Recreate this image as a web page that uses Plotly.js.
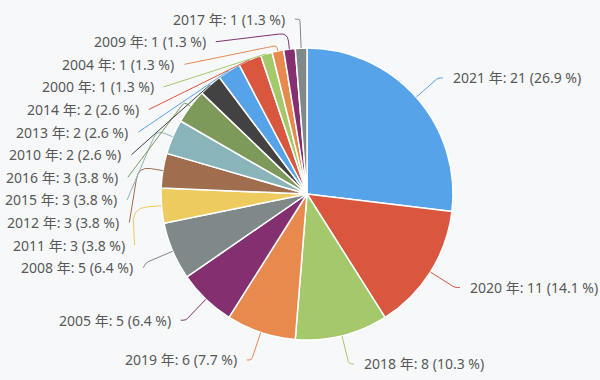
<!DOCTYPE html>
<html>
<head>
<meta charset="utf-8">
<script src="https://cdn.plot.ly/plotly-3.0.1.min.js"></script>
<style>
  html, body { margin: 0; padding: 0; background: #f7f8fa; }
  #chart { width: 600px; height: 380px; }
</style>
</head>
<body>
<div id="chart"></div>
<script>
// ---- data ----
const years  = ['2021','2020','2018','2019','2005','2008','2011','2012','2015','2016','2010','2013','2014','2000','2004','2009','2017'];
const counts = [21, 11, 8, 6, 5, 5, 3, 3, 3, 3, 2, 2, 2, 1, 1, 1, 1];
const palette = ['#56a3ea','#d9563f','#a5c96a','#e8894e','#842f6f','#7f8989','#eecb5f','#a06e4e','#89b4ba','#7d9a5b','#424242'];

// ---- geometry ----
const W = 600, H = 380;
const cx = 307, cy = 194, r = 146;
const len1 = 29, len2 = 5, R = r + len1, gap = 22.6, textGap = 8;

const colors = counts.map((_, i) => palette[i % palette.length]);
const total = counts.reduce((a, b) => a + b, 0);
const labels = years.map((y, i) => `${y} 年: ${counts[i]} (${(counts[i] / total * 100).toFixed(1)} %)`);

// label layout
let cum = 0;
const items = counts.map((v, i) => {
  const th = (cum + v / 2) / total * 2 * Math.PI;
  cum += v;
  const s = Math.sin(th), c = Math.cos(th);
  return {
    i, s, c,
    side: s >= 0 ? 1 : -1,
    p0: [cx + r * s, cy - r * c],
    p1: [cx + R * s, cy - R * c],
    y: cy - R * c
  };
});

[1, -1].forEach(side => {
  const list = items.filter(it => it.side === side).sort((a, b) => a.y - b.y);
  let shifted = false;
  for (let k = 1; k < list.length; k++) {
    if (list[k].y < list[k - 1].y + gap) { list[k].y = list[k - 1].y + gap; shifted = true; }
  }
  let B = R;
  list.forEach(it => { B = Math.max(B, Math.abs(it.y - cy)); });
  list.forEach(it => {
    if (shifted) {
      const dy = it.y - cy;
      const dx = Math.sqrt(Math.max(0, 1 - dy * dy / (B * B))) * R;
      it.p2 = [cx + side * (dx + len2), it.y];
    } else {
      it.p2 = [it.p1[0] + side * len2, it.y];
    }
    // limit turn angle (90deg)
    const ux = it.s, uy = -it.c;
    const t = Math.min(len1, Math.max(0, (it.p2[0] - it.p0[0]) * ux + (it.p2[1] - it.p0[1]) * uy));
    it.p1 = [it.p0[0] + ux * t, it.p0[1] + uy * t];
  });
});

const px = x => x / W, py = y => 1 - y / H;
const shapes = [], annotations = [];
items.forEach(it => {
  const [a, b, c] = [it.p0, it.p1, it.p2];
  const l1 = Math.hypot(b[0] - a[0], b[1] - a[1]);
  const l2 = Math.hypot(c[0] - b[0], c[1] - b[1]);
  const d = Math.min(l1, l2) * 0.5;
  const q0 = l1 > 0 ? [b[0] + (a[0] - b[0]) * d / l1, b[1] + (a[1] - b[1]) * d / l1] : b;
  const q1 = l2 > 0 ? [b[0] + (c[0] - b[0]) * d / l2, b[1] + (c[1] - b[1]) * d / l2] : b;
  const P = p => `${px(p[0]).toFixed(5)},${py(p[1]).toFixed(5)}`;
  shapes.push({
    type: 'path', xref: 'paper', yref: 'paper',
    path: `M${P(a)} L${P(q0)} Q${P(b)} ${P(q1)} L${P(c)}`,
    line: { color: colors[it.i], width: 1 }
  });
  annotations.push({
    xref: 'paper', yref: 'paper',
    x: px(c[0] + it.side * textGap), y: py(c[1]),
    xanchor: it.side > 0 ? 'left' : 'right', yanchor: 'middle',
    text: labels[it.i], showarrow: false,
    font: { family: '"Noto Sans", "Noto Sans CJK JP", sans-serif', size: 14, color: '#585858' }
  });
});

const trace = {
  type: 'pie',
  labels: years, values: counts,
  sort: false, direction: 'clockwise', rotation: 0,
  marker: { colors: colors, line: { color: '#ffffff', width: 1.5 } },
  textinfo: 'none', hoverinfo: 'none', showlegend: false,
  domain: { x: [(cx - r) / W, (cx + r) / W], y: [1 - (cy + r) / H, 1 - (cy - r) / H] }
};

Plotly.newPlot('chart', [trace], {
  width: W, height: H,
  margin: { l: 0, r: 0, t: 0, b: 0 },
  paper_bgcolor: '#f7f8fa', plot_bgcolor: '#f7f8fa',
  showlegend: false,
  shapes, annotations
}, { staticPlot: true });
</script>
</body>
</html>
